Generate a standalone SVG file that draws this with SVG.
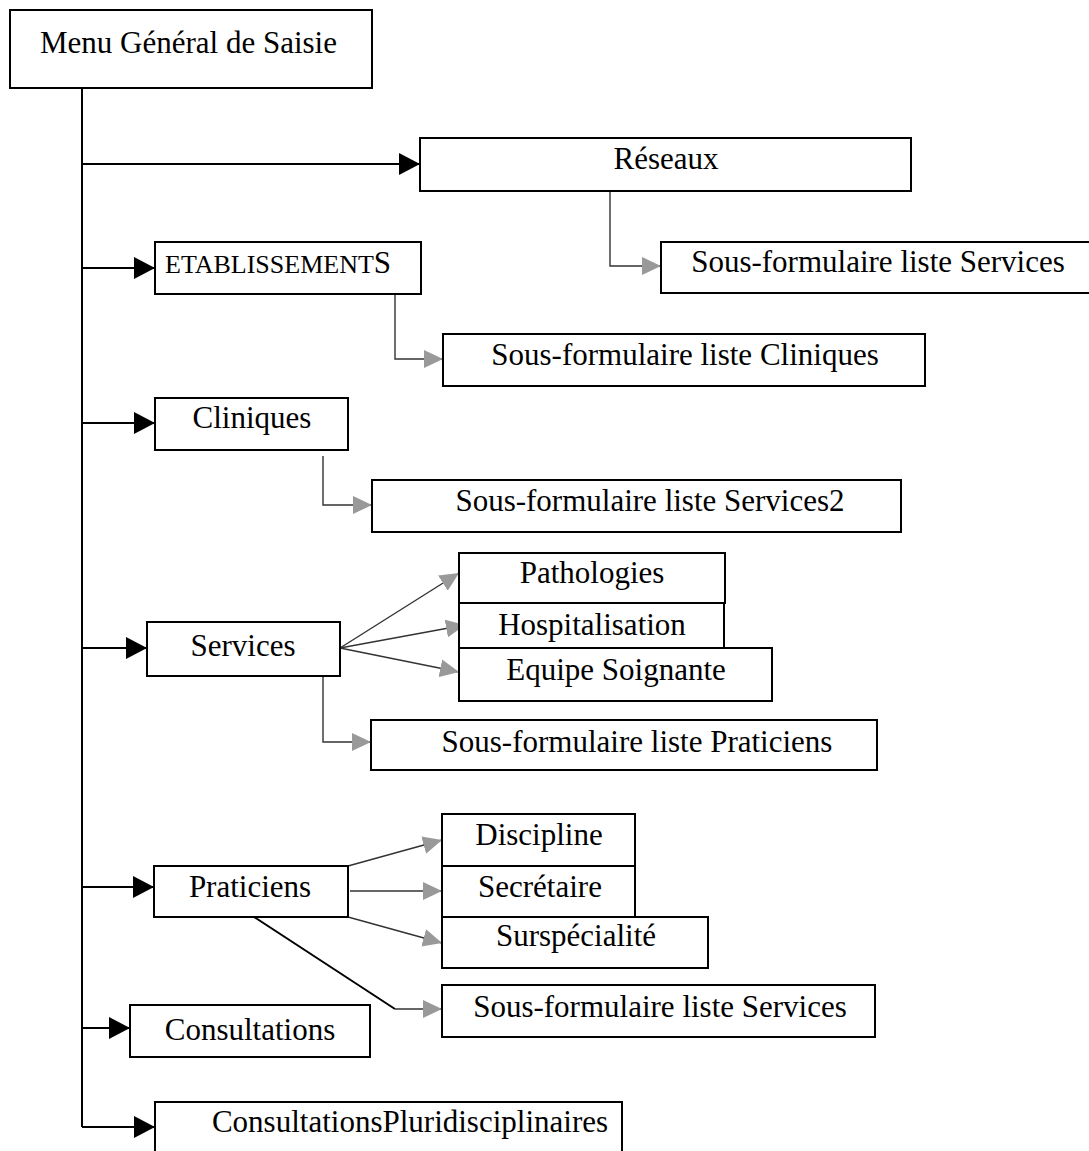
<svg xmlns="http://www.w3.org/2000/svg" width="1089" height="1151" viewBox="0 0 1089 1151">
<style>
  .box { fill: #ffffff; stroke: #000000; stroke-width: 2; }
  .t { font-family: "Liberation Serif", "Times New Roman", serif; font-size: 31px; fill: #000000; text-anchor: middle; }
  .main { fill: none; stroke: #000000; stroke-width: 2; }
  .sub { fill: none; stroke: #333333; stroke-width: 1.4; }
  .diag { fill: none; stroke: #000000; stroke-width: 2; }
</style>
<defs>
  <marker id="ab" markerUnits="userSpaceOnUse" markerWidth="22" markerHeight="22" refX="21" refY="11" orient="auto">
    <path d="M0,0 L21,11 L0,22 z" fill="#000000"/>
  </marker>
  <marker id="ag" markerUnits="userSpaceOnUse" markerWidth="20" markerHeight="18" refX="19" refY="9" orient="auto">
    <path d="M0,0 L19,9 L0,18 z" fill="#999999"/>
  </marker>
</defs>
<rect width="1089" height="1151" fill="#ffffff"/>

<g id="connectors">
  <line class="main" x1="82" y1="88" x2="82" y2="1127"/>
  <line class="main" x1="82" y1="164" x2="420" y2="164" marker-end="url(#ab)"/>
  <line class="main" x1="82" y1="268" x2="155" y2="268" marker-end="url(#ab)"/>
  <line class="main" x1="82" y1="423" x2="155" y2="423" marker-end="url(#ab)"/>
  <line class="main" x1="82" y1="648" x2="147" y2="648" marker-end="url(#ab)"/>
  <line class="main" x1="82" y1="887" x2="154" y2="887" marker-end="url(#ab)"/>
  <line class="main" x1="82" y1="1028" x2="130" y2="1028" marker-end="url(#ab)"/>
  <line class="main" x1="82" y1="1127" x2="155" y2="1127" marker-end="url(#ab)"/>

  <polyline class="sub" points="610,191 610,266 661,266" marker-end="url(#ag)"/>
  <polyline class="sub" points="395,287 395,359 443,359" marker-end="url(#ag)"/>
  <polyline class="sub" points="323,456 323,505 372,505" marker-end="url(#ag)"/>
  <polyline class="sub" points="323,676 323,742 371,742" marker-end="url(#ag)"/>

  <line class="sub" x1="340" y1="648" x2="459" y2="573" marker-end="url(#ag)"/>
  <line class="sub" x1="340" y1="648" x2="465" y2="625" marker-end="url(#ag)"/>
  <line class="sub" x1="340" y1="648" x2="459" y2="672" marker-end="url(#ag)"/>

  <line class="sub" x1="348" y1="866" x2="442" y2="840" marker-end="url(#ag)"/>
  <line class="sub" x1="350" y1="891" x2="442" y2="891" marker-end="url(#ag)"/>
  <line class="sub" x1="348" y1="917" x2="442" y2="943" marker-end="url(#ag)"/>
  <line class="diag" x1="248" y1="913" x2="395" y2="1009"/>
  <line class="sub" x1="395" y1="1009" x2="442" y2="1009" marker-end="url(#ag)"/>
</g>

<g id="menu">
  <rect class="box" x="10" y="10" width="362" height="78"/>
  <text class="t" x="40" y="53" style="text-anchor:start">Menu Général de Saisie</text>
</g>
<g id="reseaux">
  <rect class="box" x="420" y="138" width="491" height="53"/>
  <text class="t" x="666" y="169">Réseaux</text>
</g>
<g id="sf-services-reseaux">
  <rect class="box" x="661" y="242" width="440" height="51"/>
  <text class="t" x="878" y="272">Sous-formulaire liste Services</text>
</g>
<g id="etablissements">
  <rect class="box" x="155" y="242" width="266" height="52"/>
  <text class="t" x="165" y="273" style="text-anchor:start;font-size:26px">ETABLISSEMENT<tspan style="font-size:31px">S</tspan></text>
</g>
<g id="sf-cliniques">
  <rect class="box" x="443" y="334" width="482" height="52"/>
  <text class="t" x="685" y="365">Sous-formulaire liste Cliniques</text>
</g>
<g id="cliniques">
  <rect class="box" x="155" y="398" width="193" height="52"/>
  <text class="t" x="252" y="428">Cliniques</text>
</g>
<g id="sf-services2">
  <rect class="box" x="372" y="480" width="529" height="52"/>
  <text class="t" x="650" y="511">Sous-formulaire liste Services2</text>
</g>
<g id="pathologies">
  <rect class="box" x="459" y="553" width="266" height="50"/>
  <text class="t" x="592" y="583">Pathologies</text>
</g>
<g id="hospitalisation">
  <rect class="box" x="459" y="603" width="265" height="45"/>
  <text class="t" x="592" y="635">Hospitalisation</text>
</g>
<g id="equipe">
  <rect class="box" x="459" y="648" width="313" height="53"/>
  <text class="t" x="616" y="680">Equipe Soignante</text>
</g>
<g id="services">
  <rect class="box" x="147" y="622" width="193" height="54"/>
  <text class="t" x="243" y="656">Services</text>
</g>
<g id="sf-praticiens">
  <rect class="box" x="371" y="720" width="506" height="50"/>
  <text class="t" x="637" y="752">Sous-formulaire liste Praticiens</text>
</g>
<g id="praticiens">
  <rect class="box" x="154" y="866" width="194" height="51"/>
  <text class="t" x="250" y="897">Praticiens</text>
</g>
<g id="discipline">
  <rect class="box" x="442" y="814" width="193" height="52"/>
  <text class="t" x="539" y="845">Discipline</text>
</g>
<g id="secretaire">
  <rect class="box" x="442" y="866" width="193" height="51"/>
  <text class="t" x="540" y="897">Secrétaire</text>
</g>
<g id="surspecialite">
  <rect class="box" x="442" y="917" width="266" height="51"/>
  <text class="t" x="576" y="946">Surspécialité</text>
</g>
<g id="sf-services-praticiens">
  <rect class="box" x="442" y="985" width="433" height="52"/>
  <text class="t" x="660" y="1017">Sous-formulaire liste Services</text>
</g>
<g id="consultations">
  <rect class="box" x="130" y="1005" width="240" height="52"/>
  <text class="t" x="250" y="1040">Consultations</text>
</g>
<g id="consultations-pluri">
  <rect class="box" x="155" y="1102" width="467" height="60"/>
  <text class="t" x="410" y="1132">ConsultationsPluridisciplinaires</text>
</g>
</svg>
